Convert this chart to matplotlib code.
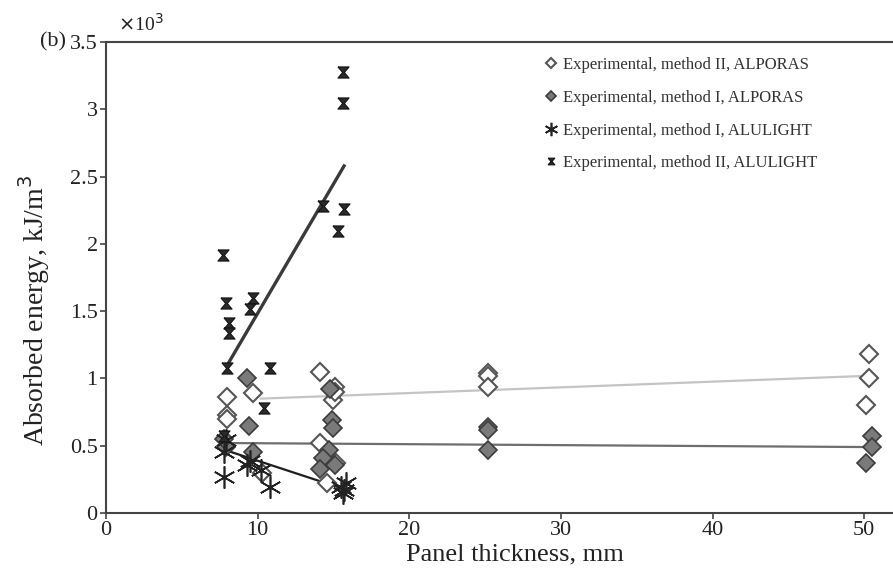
import matplotlib
matplotlib.use("Agg")
import matplotlib.pyplot as plt
from matplotlib.ticker import FuncFormatter

plt.rcParams['font.family'] = ['Liberation Serif', 'DejaVu Serif']

# values, energy in 10^3 kJ/m^3
alporas2_x = [8.0, 8.0, 8.0, 9.7, 10.3, 14.1, 14.1, 15.0, 15.1, 15.1, 14.6, 15.2, 25.2, 25.2, 25.2, 50.3, 50.3, 50.1]
alporas2_y = [0.86, 0.73, 0.70, 0.89, 0.30, 1.05, 0.52, 0.84, 0.94, 0.90, 0.22, 0.37, 1.04, 1.02, 0.94, 1.18, 1.00, 0.80]

alporas1_x = [7.9, 7.8, 9.3, 9.4, 9.7, 14.8, 14.9, 15.0, 14.7, 14.3, 14.1, 15.1, 25.2, 25.2, 25.2, 50.5, 50.5, 50.1]
alporas1_y = [0.49, 0.55, 1.00, 0.65, 0.45, 0.92, 0.69, 0.63, 0.47, 0.41, 0.33, 0.36, 0.64, 0.62, 0.47, 0.57, 0.49, 0.37]

alulight1_x = [7.8, 7.8, 7.9, 9.3, 9.5, 10.2, 10.8, 15.5, 15.7, 15.8, 15.6]
alulight1_y = [0.27, 0.45, 0.54, 0.36, 0.39, 0.32, 0.19, 0.19, 0.17, 0.22, 0.15]

alulight2_x = [7.7, 7.9, 8.1, 8.1, 8.0, 9.7, 9.5, 10.8, 10.4, 14.3, 15.7, 15.3, 15.66, 15.66, 7.8]
alulight2_y = [1.92, 1.56, 1.41, 1.34, 1.08, 1.60, 1.52, 1.08, 0.78, 2.28, 2.26, 2.10, 3.05, 3.28, 0.57]

# trend lines (end points)
trend_alporas2_x = [10.2, 50.3]
trend_alporas2_y = [0.85, 1.02]
trend_alporas1_x = [7.9, 50.3]
trend_alporas1_y = [0.52, 0.49]
trend_alulight1_x = [7.8, 15.9]
trend_alulight1_y = [0.47, 0.17]
trend_alulight2_x = [8.0, 15.7]
trend_alulight2_y = [1.10, 2.58]

labels = ['Experimental, method II, ALPORAS',
          'Experimental, method I, ALPORAS',
          'Experimental, method I, ALULIGHT',
          'Experimental, method II, ALULIGHT']

hourglass = [(-1, 1), (1, 1), (0.15, 0), (1, -1), (-1, -1), (-0.15, 0), (-1, 1)]

fig = plt.figure(figsize=(8.93, 5.78), dpi=100)
ax = fig.add_axes([0.1187, 0.1125, 0.8813, 0.8145])

ax.plot(trend_alporas2_x, trend_alporas2_y, color='#c4c4c4', lw=1.6, zorder=1)
ax.plot(trend_alporas1_x, trend_alporas1_y, color='#6e6e6e', lw=1.6, zorder=1)
ax.plot(trend_alulight1_x, trend_alulight1_y, color='#1e1e1e', lw=1.6, zorder=1)
ax.plot(trend_alulight2_x, trend_alulight2_y, color='#3a3a3a', lw=2.4, zorder=1)

ax.plot(alporas2_x, alporas2_y, ls='none', marker='D', ms=9, mfc='white',
        mec='#555555', mew=1.5, label=labels[0], zorder=3)
ax.plot(alporas1_x, alporas1_y, ls='none', marker='D', ms=9, mfc='#7a7a7a',
        mec='#3c3c3c', mew=1.2, label=labels[1], zorder=3)
ax.plot(alulight1_x, alulight1_y, ls='none', marker=(6, 2, 0), ms=16,
        mec='#222222', mew=1.2, label=labels[2], zorder=4)
ax.plot(alulight2_x, alulight2_y, ls='none', marker=hourglass, ms=8, mfc='#2a2a2a',
        mec='#111111', mew=0.8, label=labels[3], zorder=4)

ax.set_xlim(0, 51.9)
ax.set_ylim(0, 3.5)
ax.set_xticks([0, 10, 20, 30, 40, 50])
ax.set_yticks([0, 0.5, 1, 1.5, 2, 2.5, 3, 3.5])
ax.yaxis.set_major_formatter(FuncFormatter(lambda v, p: '%g' % v))

for side in ['left', 'top', 'bottom']:
    ax.spines[side].set_color('#444444')
    ax.spines[side].set_linewidth(1.5)
ax.spines['right'].set_visible(False)
ax.tick_params(direction='out', length=4, width=1.2, color='#444444',
               labelsize=16, labelcolor='#222222', pad=2)

ax.set_xlabel('Panel thickness, mm', fontsize=19, color='#222222')
ax.set_ylabel('Absorbed energy, kJ/m$^3$', fontsize=20, color='#222222')
ax.xaxis.set_label_coords(0.52, -0.065)
ax.yaxis.set_label_coords(-0.068, 0.43)

ax.text(0.015, 1.015, r'$\times$10$^3$', transform=ax.transAxes, fontsize=14,
        color='#222222', ha='left', va='bottom')
fig.text(0.074, 0.927, '(b)', fontsize=16, color='#222222', ha='right', va='center')

ax.legend(loc='upper left', bbox_to_anchor=(0.54, 1.0), frameon=False, fontsize=12,
          handlelength=0.6, handletextpad=0.4, labelspacing=1.0, markerscale=0.6,
          labelcolor='#333333')

fig.savefig('out.png', dpi=100)
